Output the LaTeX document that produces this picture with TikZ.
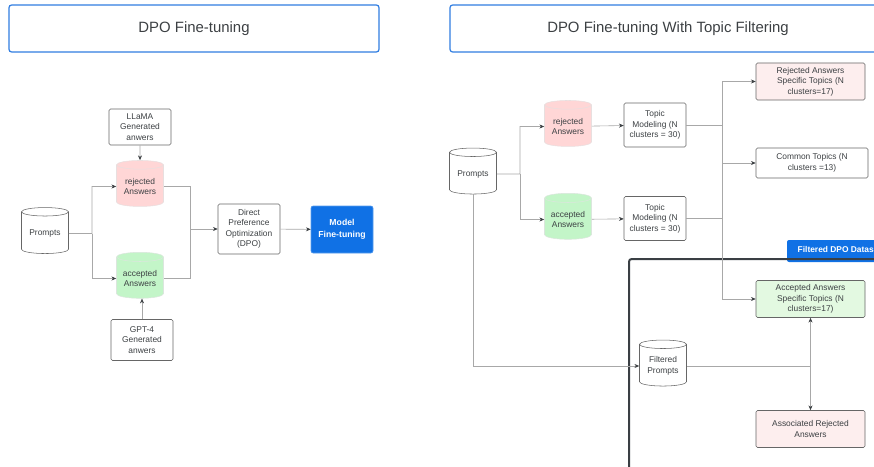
\documentclass[tikz,border=0pt]{standalone}
\usepackage{fontspec}
\setmainfont{Liberation Sans}
\usetikzlibrary{shapes.geometric,arrows.meta}
\definecolor{ink}{HTML}{3C4043}
\definecolor{wire}{HTML}{A8A8A8}
\definecolor{titleblue}{HTML}{2F7DE1}
\definecolor{modelblue}{HTML}{1071E5}
\definecolor{rejpink}{HTML}{FFD6D6}
\definecolor{accgreen}{HTML}{C3F5C8}
\definecolor{rejlight}{HTML}{FDEEEE}
\definecolor{acclight}{HTML}{E3F9E1}
\definecolor{framegray}{HTML}{3A3F44}

\begin{document}
\begin{tikzpicture}[x=0.75pt, y=-0.75pt,
    every node/.style={font=\fontsize{6.3}{7.9}\selectfont, text=ink, align=center},
    title/.style={draw=titleblue, line width=0.9pt, rounded corners=2pt, minimum height=35.25pt, font=\fontsize{11.2}{13}\selectfont},
    box/.style={draw=black!60, line width=0.4pt, rounded corners=1.2pt, inner sep=1pt, minimum width=46.5pt},
    wide/.style={box, minimum width=81.75pt, minimum height=27.75pt},
    topic/.style={box, minimum height=33pt},
    db/.style={cylinder, shape border rotate=90, aspect=0.25, draw=black!60, line width=0.4pt, minimum width=35.25pt, minimum height=34.5pt, inner sep=1pt},
    dbrej/.style={db, fill=rejpink, draw=rejpink!70!black!30!white},
    dbacc/.style={db, fill=accgreen, draw=accgreen!70!black!30!white},
    model/.style={fill=modelblue, draw=modelblue!70, rounded corners=1.5pt, minimum width=46.5pt, minimum height=35.25pt, text=white, font=\fontsize{6.5}{9}\selectfont\bfseries},
    line/.style={draw=wire, line width=0.45pt},
    arrow/.style={line, -{Stealth[length=3.6pt, width=3pt, color=ink]}}
  ]
  \useasboundingbox (0,0) rectangle (874,467);
  \clip (0,0) rectangle (874,467);

  % Panel (a): plain DPO
  \node[title, minimum width=277.5pt] (ltitle) at (194,28.5) {DPO Fine-tuning};
  \node[db] (lprompts) at (45,233.5) {Prompts};
  \node[box, minimum height=27pt] (llama) at (140,127) {LLaMA\\Generated\\anwers};
  \node[dbrej] (lrej) at (140,186.5) {rejected\\Answers};
  \node[dbacc] (lacc) at (140,278.5) {accepted\\Answers};
  \node[box, minimum height=30.75pt] (gpt) at (142,340) {GPT-4\\Generated\\anwers};
  \node[box, minimum height=37.5pt] (dpo) at (249,229) {Direct\\Preference\\Optimization\\(DPO)};
  \node[model] (model) at (342,229.5) {Model\\Fine-tuning};

  \coordinate (lsplit) at (92,233.5);
  \coordinate (lmerge) at (190,229);
  \draw[arrow] (lprompts.east) -- (lsplit) |- (lrej.west);
  \draw[arrow] (lsplit) |- (lacc.west);
  \draw[line] (lrej.east) -| (lmerge);
  \draw[line] (lacc.east) -| (lmerge);
  \draw[arrow] (lmerge) -- (dpo.west);
  \draw[arrow] (llama.south) -- (lrej.north);
  \draw[arrow] (gpt.north) -- (gpt.north |- lacc.south);
  \draw[arrow] (dpo) -- (model);

  % Panel (b): DPO with topic filtering
  \node[title, minimum width=327pt] (rtitle) at (668,28.5) {DPO Fine-tuning With Topic Filtering};
  \node[db] (rprompts) at (473,174) {Prompts};
  \node[dbrej] (rrej) at (568,126.5) {rejected\\Answers};
  \node[dbacc] (racc) at (568,219.5) {accepted\\Answers};
  \node[topic] (tmrej) at (655,125) {Topic\\Modeling (N\\clusters = 30)};
  \node[topic] (tmacc) at (655,218.5) {Topic\\Modeling (N\\clusters = 30)};
  \node[wide, fill=rejlight] (rejspec) at (810.5,81.5) {Rejected Answers\\Specific Topics (N\\clusters=17)};
  \node[box, minimum width=84pt, minimum height=22.5pt] (common) at (812,163) {Common Topics (N\\clusters =13)};

  % Filtered dataset container
  \fill[modelblue, rounded corners=1.5pt] (787,240) rectangle (900,262);
  \node[anchor=west, text=white, font=\fontsize{6.3}{7.9}\selectfont\bfseries] (dstab) at (793,249.5) {Filtered DPO Dataset};
  \draw[framegray, line width=1.5pt, rounded corners=2pt] (629,259) rectangle (900,520);

  \node[wide, fill=acclight] (accspec) at (810.5,299) {Accepted Answers\\Specific Topics (N\\clusters=17)};
  \node[db] (fprompts) at (663,366) {Filtered\\Prompts};
  \node[wide, fill=rejlight] (assoc) at (810.5,429) {Associated Rejected\\Answers};

  \coordinate (rsplit) at (520,174);
  \coordinate (tsplit) at (722,125);
  \coordinate (tjoin) at (722,218.5);
  \coordinate (fsplit) at (accspec.south |- fprompts.east);
  \draw[arrow] (rprompts.east) -- (rsplit) |- (rrej.west);
  \draw[arrow] (rsplit) |- (racc.west);
  \draw[arrow] (rrej) -- (tmrej);
  \draw[arrow] (racc) -- (tmacc);
  \draw[arrow] (tmrej.east) -- (tsplit) |- (rejspec.west);
  \draw[arrow] (tsplit) |- (common.west);
  \draw[arrow] (tmacc.east) -- (tjoin) |- (accspec.west);
  \draw[line] (tjoin) -- (tjoin |- common.west);
  \draw[arrow] (rprompts.south) |- (fprompts.west);
  \draw[line] (fprompts.east) -- (fsplit);
  \draw[arrow] (fsplit) -- (accspec.south);
  \draw[arrow] (fsplit) -- (assoc.north);

\end{tikzpicture}
\end{document}
